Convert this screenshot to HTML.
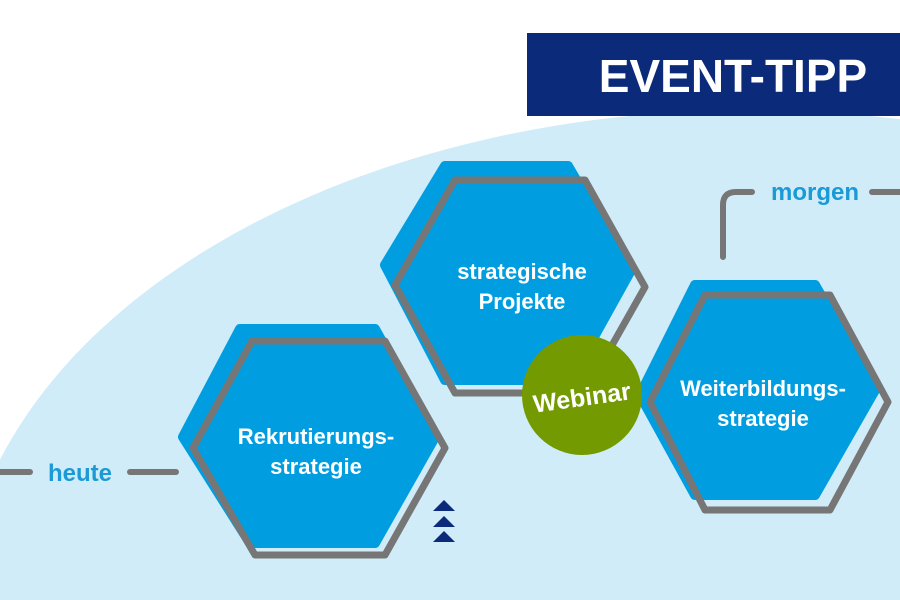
<!DOCTYPE html>
<html><head><meta charset="utf-8"><style>
html,body{margin:0;padding:0;width:900px;height:600px;overflow:hidden;background:#fff}
svg{display:block}
text{font-family:"Liberation Sans",sans-serif;font-weight:bold}
</style></head><body>
<svg width="900" height="600" viewBox="0 0 900 600">
<ellipse cx="750" cy="620" rx="790" ry="510" fill="#d0ecf8"/>
<rect x="527" y="33" width="373" height="83" fill="#0b2a7a"/>
<text x="733" y="92" fill="#fff" font-size="46" text-anchor="middle">EVENT-TIPP</text>
<g stroke="#767676" stroke-width="6" fill="none" stroke-linecap="round" stroke-linejoin="round">
<line x1="0" y1="472" x2="30" y2="472"/>
<line x1="130" y1="472" x2="176" y2="472"/>
<path d="M723 257 V205 Q723 192 736 192 H752"/>
<line x1="872" y1="192" x2="900" y2="192"/>
</g>
<text x="80" y="481" fill="#1a9ad6" font-size="24" text-anchor="middle">heute</text>
<text x="815" y="200" fill="#1a9ad6" font-size="24" text-anchor="middle">morgen</text>
<g stroke-linejoin="round">
<polygon points="183,437 240,329 375,329 435,437 375,543 250,543" fill="#009ee0" stroke="#009ee0" stroke-width="10"/>
<polygon points="193,448 252,341 385,341 445,448 385,555 255,555" fill="none" stroke="#767676" stroke-width="7"/>
<polygon points="385,265 445,166 568,166 630,272 570,380 445,380" fill="#009ee0" stroke="#009ee0" stroke-width="10"/>
<polygon points="395,285 455,180 585,180 645,287 585,393 455,393" fill="none" stroke="#767676" stroke-width="7"/>
<polygon points="640,395 695,285 815,285 875,390 815,495 695,495" fill="#009ee0" stroke="#009ee0" stroke-width="10"/>
<polygon points="650,402 705,295 830,295 888,402 830,510 705,510" fill="none" stroke="#767676" stroke-width="7"/>
</g>
<g fill="#fff" font-size="22" text-anchor="middle">
<text x="316" y="444">Rekrutierungs-</text>
<text x="316" y="474">strategie</text>
<text x="522" y="279">strategische</text>
<text x="522" y="309">Projekte</text>
<text x="763" y="396">Weiterbildungs-</text>
<text x="763" y="426">strategie</text>
</g>
<circle cx="582" cy="395" r="60" fill="#739a00"/>
<text x="582" y="406" fill="#fff" font-size="25" text-anchor="middle" transform="rotate(-8 582 398)">Webinar</text>
<g fill="#0b2a7a">
<polygon points="444,500 433,511 455,511"/>
<polygon points="444,516 433,527 455,527"/>
<polygon points="444,531 433,542 455,542"/>
</g>
</svg>
</body></html>
